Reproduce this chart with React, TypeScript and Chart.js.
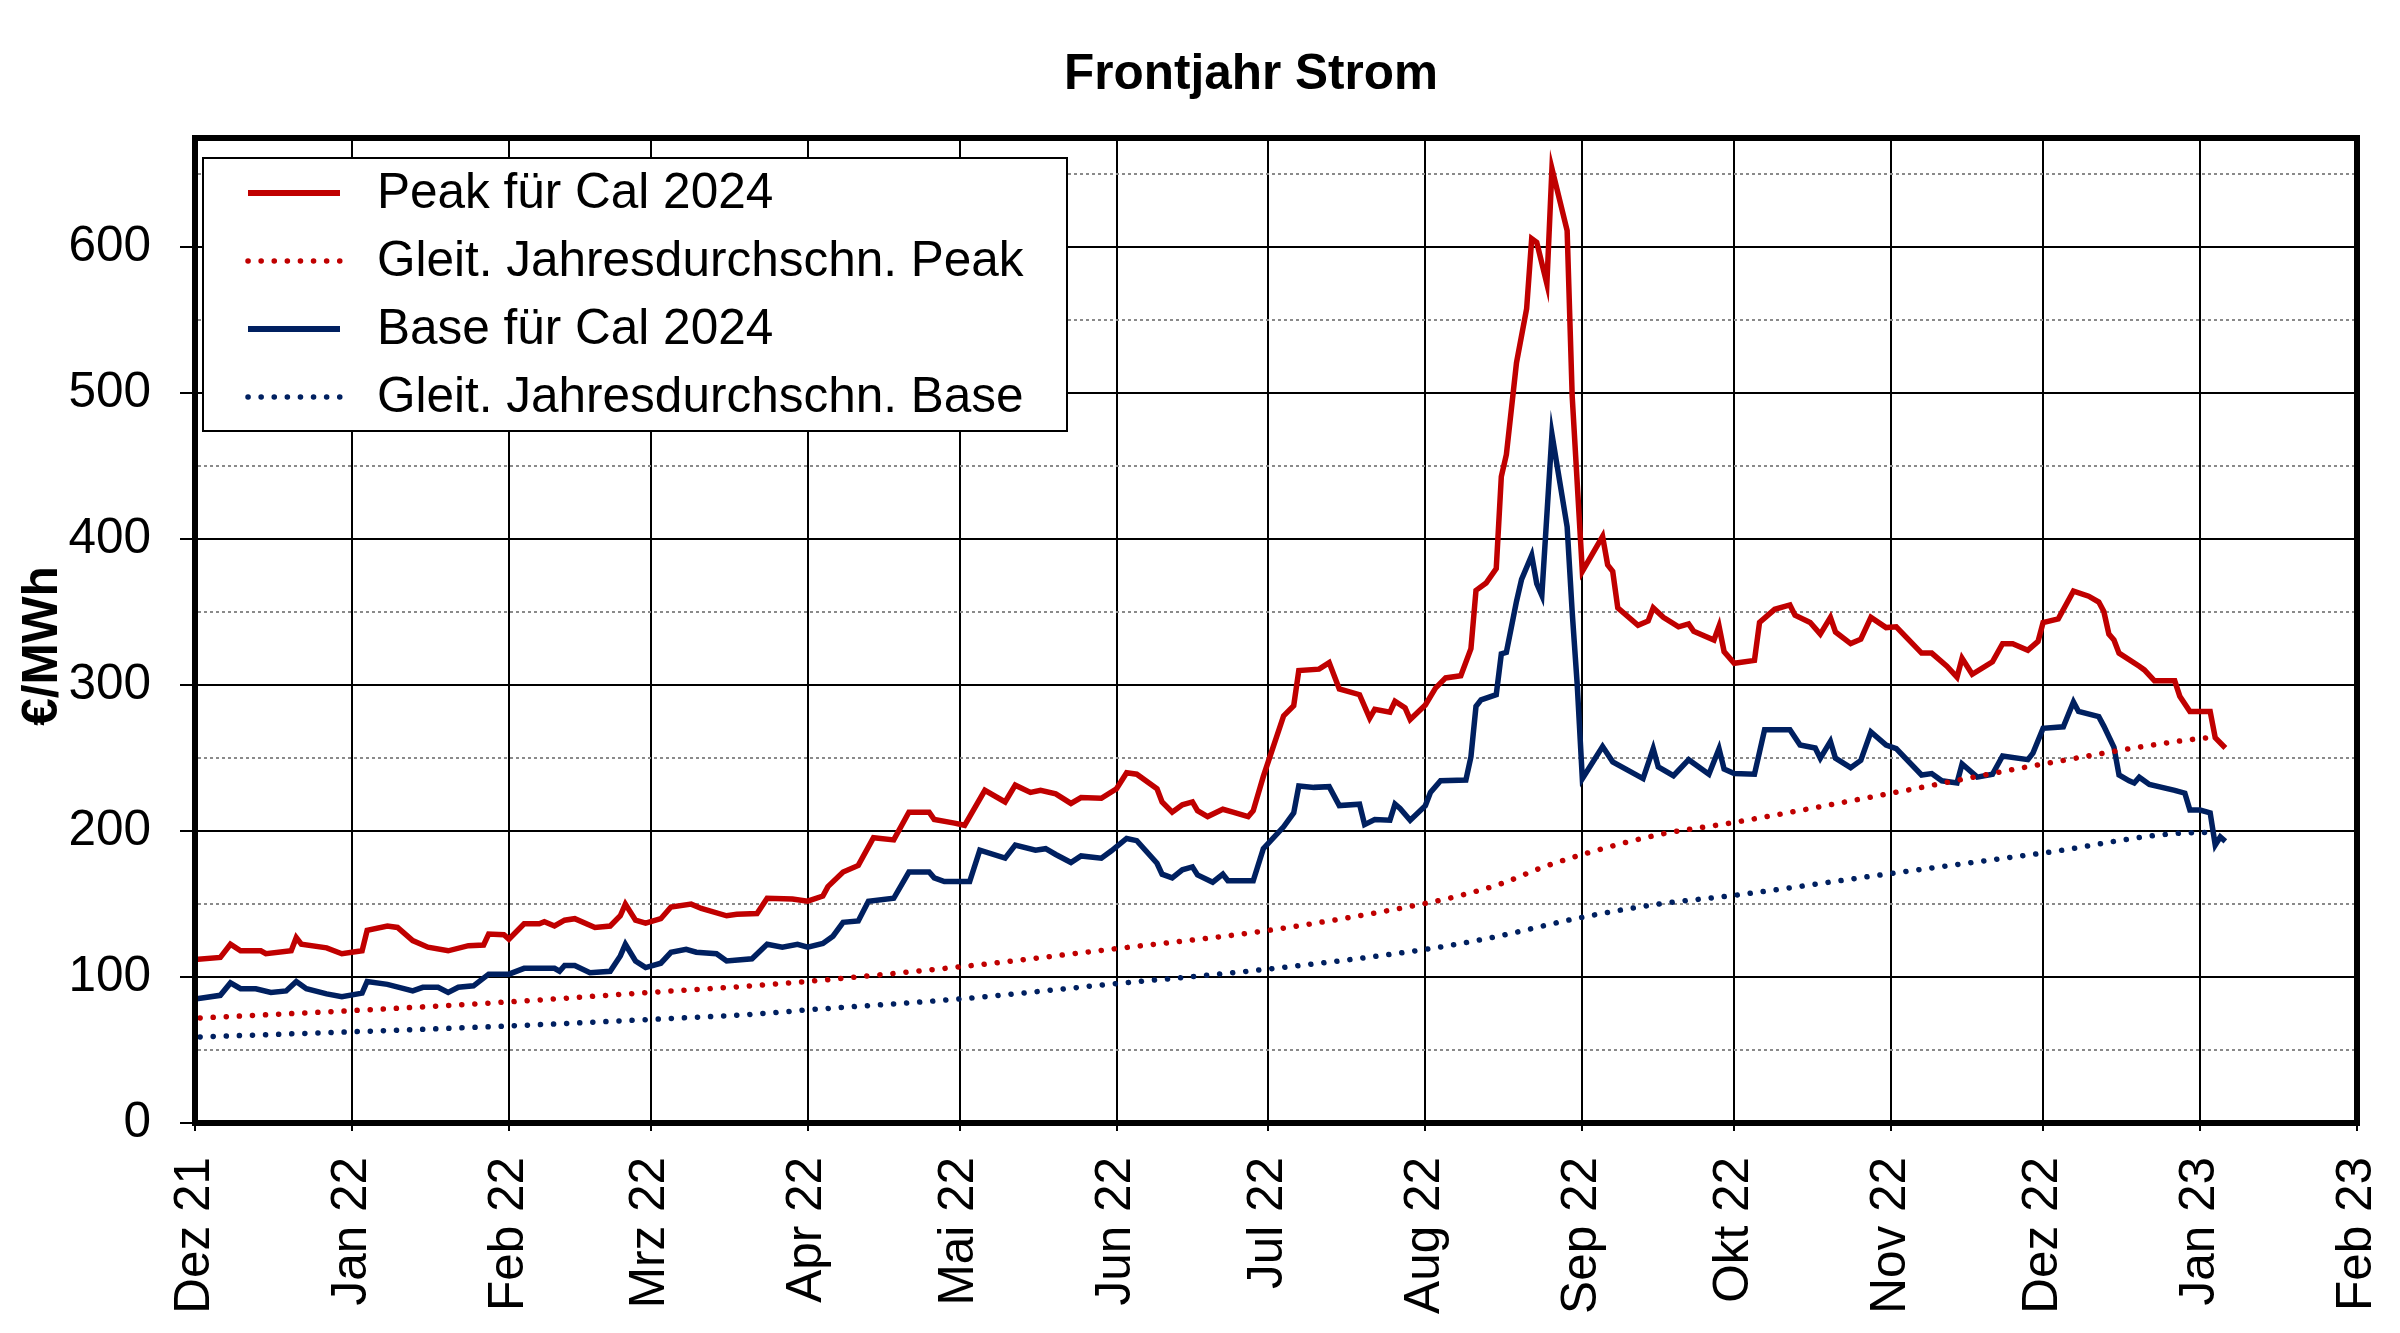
import React, { useEffect, useRef } from 'react';
import { Chart, registerables } from 'chart.js';

Chart.register(...registerables);

const FONT = "'Liberation Sans', Arial, sans-serif";
const RED = '#C00000';
const NAVY = '#002060';

// x values are days since 1 Dec 2021
const monthDays = [0, 31, 62, 90, 121, 151, 182, 212, 243, 274, 304, 335, 365, 396, 427];
const monthLabels = [
  'Dez 21', 'Jan 22', 'Feb 22', 'Mrz 22', 'Apr 22', 'Mai 22', 'Jun 22', 'Jul 22',
  'Aug 22', 'Sep 22', 'Okt 22', 'Nov 22', 'Dez 22', 'Jan 23', 'Feb 23',
];
const yTicks = [0, 50, 100, 150, 200, 250, 300, 350, 400, 450, 500, 550, 600, 650];

const peakCal24: [number, number][] = [
  [0, 112], [5, 113.5], [7, 122.5], [9, 118], [13, 118], [14, 116], [19, 118], [20, 127], [21, 122.5],
  [26, 120], [29, 116], [33, 118], [34, 132], [38, 135], [40, 134], [43, 125], [46, 120.5], [50, 118],
  [54, 121.5], [57, 122], [58, 129.5], [61, 129], [62, 126], [65, 136.5], [68, 136.5], [69, 138],
  [71, 135], [73, 139], [75, 140], [79, 134], [82, 135], [84, 142], [85, 150], [87, 139], [89, 137],
  [92, 140], [94, 148], [98, 150], [100, 147], [105, 142], [107, 143], [111, 143.5], [113, 154],
  [118, 153.5], [121, 152], [124, 155.5], [125, 162], [128, 172], [131, 176.5], [134, 195.5],
  [138, 194], [141, 213], [145, 213], [146, 208], [150, 205.5], [152, 204], [156, 228], [160, 220],
  [162, 231.5], [165, 226.5], [167, 228], [170, 225.5], [173, 219], [175, 223], [179, 222.5],
  [182, 229], [184, 240], [186, 239], [190, 229], [191, 220], [193, 213], [195, 218], [197, 220],
  [198, 214], [200, 210], [203, 215], [205, 213], [208, 210], [209, 214], [211, 237.5], [215, 279],
  [217, 286], [218, 310], [222, 311], [224, 315.5], [226, 297.5], [230, 293.5], [232, 277.5],
  [233, 283.5], [236, 281.5], [237, 289], [239, 284.5], [240, 276.5], [243, 286.5], [245, 298],
  [247, 305], [250, 306.5], [252, 325], [253, 365], [255, 370], [257, 380], [258, 443], [259, 458],
  [261, 521], [263, 558], [264, 606], [265, 603.5], [267, 575], [268, 654], [271, 611.5], [272, 498],
  [274, 378], [278, 402], [279, 382.5], [280, 378], [281, 353], [285, 341], [287, 344], [288, 353],
  [290, 346.5], [293, 340], [295, 342], [296, 337], [300, 331], [301, 340.5], [302, 323], [304, 315],
  [308, 317], [309, 343], [312, 352], [315, 355], [316, 348], [319, 343], [321, 335], [323, 346.5],
  [324, 336.5], [327, 328.5], [329, 331.5], [331, 346.5], [334, 339.5], [336, 340], [341, 322],
  [343, 322], [346, 313], [348, 305.5], [349, 318.5], [351, 307.5], [355, 316], [357, 328.5],
  [359, 328.5], [362, 324], [364, 330], [365, 343], [368, 345.5], [371, 364.5], [374, 361],
  [376, 357], [377, 350.5], [378, 335], [379, 331], [380, 322], [384, 313], [385, 310.5], [387, 303],
  [391, 303], [392, 292.5], [394, 282], [398, 282], [399, 264], [401, 257],
];

const baseCal24: [number, number][] = [
  [0, 85], [5, 87.5], [7, 96], [9, 92], [12, 92], [15, 89.5], [18, 90.5], [20, 97], [22, 92],
  [26, 88.5], [29, 86.5], [33, 89], [34, 97], [38, 95], [43, 90.5], [45, 93], [48, 93], [50, 89.5],
  [52, 93], [55, 94], [58, 102], [62, 102], [65, 106], [71, 106], [72, 104], [73, 108], [75, 108],
  [78, 103], [82, 104], [84, 114.5], [85, 122.5], [87, 111], [89, 106.5], [92, 109.5], [94, 117],
  [97, 119], [99, 117], [103, 116], [105, 111], [110, 112.5], [113, 122.5], [116, 120.5],
  [119, 122.5], [121, 120.5], [124, 123], [126, 128], [128, 137.5], [131, 138.5], [133, 152],
  [138, 154], [141, 172], [145, 172], [146, 168], [148, 165.5], [153, 165.5], [155, 187],
  [160, 181.5], [162, 190.5], [166, 187], [168, 188], [170, 184], [173, 178.5], [175, 183],
  [179, 181.5], [181, 186.5], [184, 195], [186, 193.5], [190, 178], [191, 170.5], [193, 168],
  [195, 173.5], [197, 175.5], [198, 170], [201, 165], [203, 170.5], [204, 166], [209, 166],
  [211, 188], [215, 203], [217, 212.5], [218, 231], [221, 230], [224, 230.5], [226, 217.5],
  [230, 218.5], [231, 204.5], [233, 208], [236, 207.5], [237, 218.5], [238, 215.5], [240, 207.5],
  [243, 217.5], [244, 226.5], [246, 234.5], [251, 235], [252, 251], [253, 285.5], [254, 290],
  [257, 293.5], [258, 321.5], [259, 322.5], [261, 357.5], [262, 372.5], [264, 389], [265, 369.5],
  [266, 361.5], [268, 472], [271, 408.5], [272, 350], [273, 300], [274, 236], [278, 258],
  [280, 247.5], [286, 236], [288, 256.5], [289, 244], [292, 238], [295, 249], [299, 239],
  [301, 256.5], [302, 242.5], [304, 239.5], [308, 239], [310, 269.5], [315, 269.5], [317, 259],
  [320, 257], [321, 250], [323, 261.5], [324, 250], [327, 243.5], [329, 248.5], [331, 268],
  [334, 259], [336, 256.5], [341, 238.5], [343, 239.5], [345, 234.5], [348, 233], [349, 246],
  [352, 237], [355, 239], [357, 251.5], [362, 249], [363, 253.5], [365, 270.5], [369, 271.5],
  [371, 288.5], [372, 282], [376, 278.5], [377, 272], [379, 257.5], [380, 238.5], [382, 234.5],
  [383, 233], [384, 237], [386, 232], [391, 228], [393, 226], [394, 214.5], [396, 214.5],
  [398, 212.5], [399, 190.5], [400, 196], [401, 193],
];

const peakAvg: [number, number][] = [
  [1, 72], [31, 77], [62, 83], [90, 89.5], [110, 94], [121, 97], [151, 107], [182, 119.5],
  [212, 132], [243, 150.5], [250, 156], [258, 164], [266, 175], [274, 184], [289, 197.5],
  [304, 206], [335, 226], [365, 246], [396, 263.5], [398, 264],
];

const baseAvg: [number, number][] = [
  [1, 59], [31, 62.5], [62, 66.5], [90, 71], [110, 74.5], [121, 77.5], [151, 85], [182, 95.5],
  [212, 105.5], [243, 119], [256, 127], [274, 141], [289, 150], [304, 156], [335, 171],
  [365, 185], [396, 199], [398, 199],
];

const toPoints = (s: [number, number][]) => s.map(([x, y]) => ({ x, y }));
const DOTS = [0.1, 13];
const FS = 49.5;

const decorPlugin = {
  id: 'decor',
  afterDatasetsDraw(chart: any) {
    const { ctx, chartArea: a } = chart;
    ctx.save();
    // legend box
    const bx = a.left + 8;
    const by = a.top + 20;
    ctx.fillStyle = '#fff';
    ctx.fillRect(bx, by, 864, 273);
    ctx.strokeStyle = '#000';
    ctx.lineWidth = 2;
    ctx.strokeRect(bx, by, 864, 273);
    ctx.font = `${FS}px ${FONT}`;
    ctx.textBaseline = 'middle';
    ctx.textAlign = 'left';
    chart.data.datasets.forEach((ds: any, i: number) => {
      const cy = by + 35 + i * 68;
      ctx.beginPath();
      ctx.strokeStyle = ds.borderColor;
      ctx.lineWidth = ds.borderDash ? ds.borderWidth : 6;
      ctx.lineCap = ds.borderDash ? 'round' : 'butt';
      ctx.setLineDash(ds.borderDash || []);
      ctx.moveTo(bx + 45, cy);
      ctx.lineTo(bx + 137, cy);
      ctx.stroke();
      ctx.setLineDash([]);
      ctx.fillStyle = '#000';
      ctx.fillText(ds.label, bx + 174, cy + 1);
    });
    // plot frame
    ctx.strokeStyle = '#000';
    ctx.lineWidth = 6;
    ctx.lineCap = 'butt';
    ctx.strokeRect(a.left, a.top, a.right - a.left, a.bottom - a.top);
    ctx.restore();
  },
  afterDraw(chart: any) {
    const { ctx } = chart;
    ctx.save();
    ctx.fillStyle = '#000';
    ctx.textAlign = 'center';
    ctx.textBaseline = 'middle';
    ctx.font = `bold ${FS}px ${FONT}`;
    ctx.fillText('Frontjahr Strom', 1251, 75);
    ctx.translate(43, 646);
    ctx.rotate(-Math.PI / 2);
    ctx.fillText('€/MWh', 0, 0);
    ctx.restore();
  },
};

const PriceChart = () => {
  const chartRef = useRef<HTMLCanvasElement>(null);

  useEffect(() => {
    if (!chartRef.current) return;
    const chart = new Chart(chartRef.current, {
      type: 'line',
      data: {
        datasets: [
          {
            label: 'Peak für Cal 2024',
            data: toPoints(peakCal24),
            borderColor: RED,
            borderWidth: 5.5,
            pointRadius: 0,
            tension: 0,
          },
          {
            label: 'Gleit. Jahresdurchschn. Peak',
            data: toPoints(peakAvg),
            borderColor: RED,
            borderWidth: 5.5,
            borderDash: DOTS,
            borderCapStyle: 'round',
            pointRadius: 0,
            cubicInterpolationMode: 'monotone',
          },
          {
            label: 'Base für Cal 2024',
            data: toPoints(baseCal24),
            borderColor: NAVY,
            borderWidth: 5.5,
            pointRadius: 0,
            tension: 0,
          },
          {
            label: 'Gleit. Jahresdurchschn. Base',
            data: toPoints(baseAvg),
            borderColor: NAVY,
            borderWidth: 5.5,
            borderDash: DOTS,
            borderCapStyle: 'round',
            pointRadius: 0,
            cubicInterpolationMode: 'monotone',
          },
        ],
      } as any,
      options: {
        animation: false,
        responsive: true,
        maintainAspectRatio: false,
        layout: { padding: { top: 138, right: 43, left: 0, bottom: 0 } },
        plugins: {
          legend: { display: false },
          title: { display: false },
          tooltip: { enabled: false },
        },
        scales: {
          x: {
            type: 'linear',
            min: 0,
            max: 427,
            afterBuildTicks: (s: any) => {
              s.ticks = monthDays.map((v) => ({ value: v }));
            },
            afterFit: (s: any) => {
              s.height = 210;
              s.paddingLeft = 0;
              s.paddingRight = 0;
            },
            ticks: {
              autoSkip: false,
              minRotation: 90,
              maxRotation: 90,
              padding: 26,
              color: '#000',
              font: { family: FONT, size: FS },
              callback: (v: any) => monthLabels[monthDays.indexOf(Number(v))] ?? '',
            },
            grid: { color: '#000', lineWidth: 2, tickLength: 8, tickWidth: 2, tickColor: '#000' },
            border: { color: '#000', width: 6 },
          },
          y: {
            type: 'linear',
            min: 0,
            max: 675,
            afterBuildTicks: (s: any) => {
              s.ticks = yTicks.map((v) => ({ value: v }));
            },
            afterFit: (s: any) => {
              s.width = 195;
              s.paddingTop = 0;
              s.paddingBottom = 0;
            },
            ticks: {
              padding: 29,
              color: '#000',
              font: { family: FONT, size: FS },
              callback: (v: any) => (Number(v) % 100 === 0 ? String(v) : ''),
            },
            grid: {
              color: (c: any) => (c.tick && c.tick.value % 100 !== 0 ? '#8a8a8a' : '#000'),
              lineWidth: 2,
              tickLength: 15,
              tickWidth: 2,
              tickColor: (c: any) => (c.tick && c.tick.value % 100 !== 0 ? 'rgba(0,0,0,0)' : '#000'),
            },
            border: {
              color: '#000',
              width: 6,
              dash: (c: any) => (c.tick && c.tick.value % 100 !== 0 ? [3, 3] : []),
            },
          },
        },
      },
      plugins: [decorPlugin],
    });
    return () => {
      chart.destroy();
    };
  }, []);

  return <canvas ref={chartRef} />;
};

export default function App() {
  return (
    <div style={{ position: 'fixed', left: 0, top: 0, width: '2400px', height: '1333px', background: '#fff' }}>
      <PriceChart />
    </div>
  );
}
